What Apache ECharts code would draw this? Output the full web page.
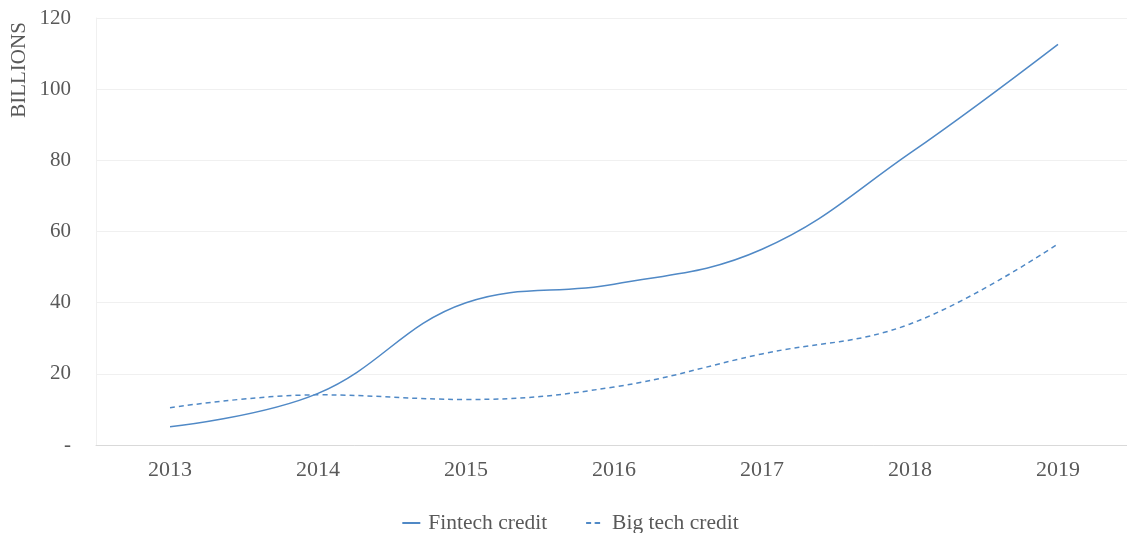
<!DOCTYPE html>
<html>
<head>
<meta charset="utf-8">
<script src="https://cdn.jsdelivr.net/npm/echarts@6/dist/echarts.min.js"></script>
<style>
  html, body { margin: 0; padding: 0; background: #fff; overflow: hidden; }
  #chart { width: 1140px; height: 533px; }
</style>
</head>
<body>
<div id="chart"></div>
<script>
const years = ["2013", "2014", "2015", "2016", "2017", "2018", "2019"];
const fintechCredit = [5.1, 14.5, 40, 45.2, 55, 82, 112.6];
const bigTechCredit = [10.5, 14.1, 12.8, 16.3, 25.6, 34, 56.5];

const lineColor = "#5089c6";
const textColor = "#595959";
const font = "'Liberation Serif', 'Times New Roman', serif";

// the plot area runs a little past the right edge of the picture
const chart = echarts.init(document.getElementById("chart"));

chart.setOption({
  animation: false,
  textStyle: { fontFamily: font },
  grid: { left: 96, right: 8, top: 18, bottom: 88 },
  graphic: [{
    type: "text",
    x: 19,
    y: 70,
    rotation: Math.PI / 2,
    style: {
      text: "BILLIONS",
      fill: textColor,
      font: "21px " + font,
      align: "center",
      verticalAlign: "middle"
    }
  }],
  legend: {
    top: 507,
    left: "center",
    itemWidth: 18,
    itemHeight: 2,
    itemGap: 38,
    textStyle: { color: textColor, fontSize: 21.5, fontFamily: font, padding: [0, 0, 0, 3] },
    data: ["Fintech credit", "Big tech credit"]
  },
  xAxis: {
    type: "category",
    data: years,
    boundaryGap: true,
    axisLine: { lineStyle: { color: "#d9d9d9" } },
    axisTick: { show: false },
    axisLabel: { color: textColor, fontSize: 22, fontFamily: font, margin: 14 }
  },
  yAxis: {
    type: "value",
    min: 0,
    max: 120,
    interval: 20,
    axisLine: { show: true, lineStyle: { color: "#f0f0f0" } },
    axisTick: { show: false },
    splitLine: { lineStyle: { color: "#f0f0f0" } },
    axisLabel: {
      color: textColor, fontSize: 21, fontFamily: font, margin: 25,
      formatter: v => (v === 0 ? "-" : String(v))
    }
  },
  series: [
    {
      name: "Fintech credit",
      type: "line",
      data: fintechCredit,
      smooth: 0.4,
      symbol: "none",
      lineStyle: { color: lineColor, width: 1.5 },
      itemStyle: { color: lineColor }
    },
    {
      name: "Big tech credit",
      type: "line",
      data: bigTechCredit,
      smooth: 0.4,
      symbol: "none",
      lineStyle: { color: lineColor, width: 1.5, type: [5, 4] },
      itemStyle: { color: lineColor }
    }
  ]
});
</script>
</body>
</html>
